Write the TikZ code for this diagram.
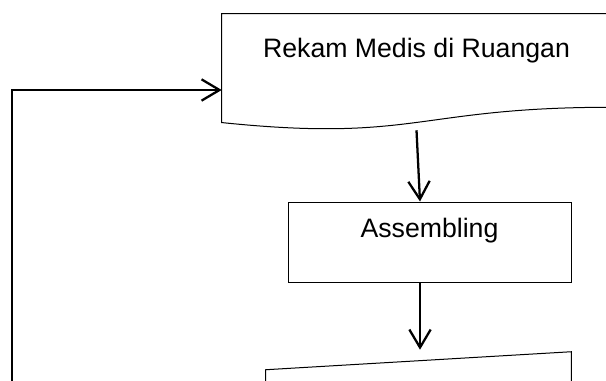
\documentclass[tikz,border=0pt]{standalone}
\usepackage{fontspec}
\setmainfont{Liberation Sans}
\usetikzlibrary{arrows.meta,calc}
\tikzset{
  docbox/.style={minimum width=291.75pt, minimum height=87pt, inner sep=0pt, align=center, text height=15pt, text depth=36pt, font=\fontsize{20pt}{24pt}\selectfont},
  box/.style={draw=black, line width=0.75pt, minimum width=212.25pt, minimum height=60pt, inner sep=0pt, align=center, text height=15pt, text depth=22.5pt, font=\fontsize{20pt}{24pt}\selectfont},
  inputbox/.style={minimum width=228.75pt, minimum height=67.5pt, inner sep=0pt},
  outline/.style={draw=black, line width=0.75pt},
  arrow/.style={-{Straight Barb[length=13.5pt,width=16pt]}, line width=1.7pt}
}

\begin{document}
\begin{tikzpicture}[x=0.75pt, y=-0.75pt]
\useasboundingbox (0,0) rectangle (606,381);
\clip (0,0) rectangle (606,381);
\node[docbox] (rekam) at (416.5,72) {Rekam Medis di Ruangan};
\node[box] (asm) at (429.5,242) {Assembling};
\node[inputbox] (input) at (418.5,397) {};
\coordinate (back) at (12,400);
\draw[outline] ($(rekam.south west)+(0,-7.7)$) -- (rekam.north west) -- (rekam.north east) -- ($(rekam.south east)+(0,-23)$)
  .. controls ($(rekam.south)+(0,-23)$) and ($(rekam.south)+(0,12.4)$) .. ($(rekam.south west)+(0,-7.7)$) -- cycle;
\draw[outline] (input.north east) -- ($(input.north west)+(0,18)$) -- (input.south west) -- (input.south east) -- cycle;
\draw[arrow] (rekam.south) -- ($(asm.north)+(-9.5,0)$);
\draw[arrow] ($(asm.south)+(-9.5,0)$) -- ($(asm.south |- input.north)+(-9.5,-2)$);
\draw[arrow] (back) |- ($(rekam.west)+(0,18)$);
\end{tikzpicture}
\end{document}
